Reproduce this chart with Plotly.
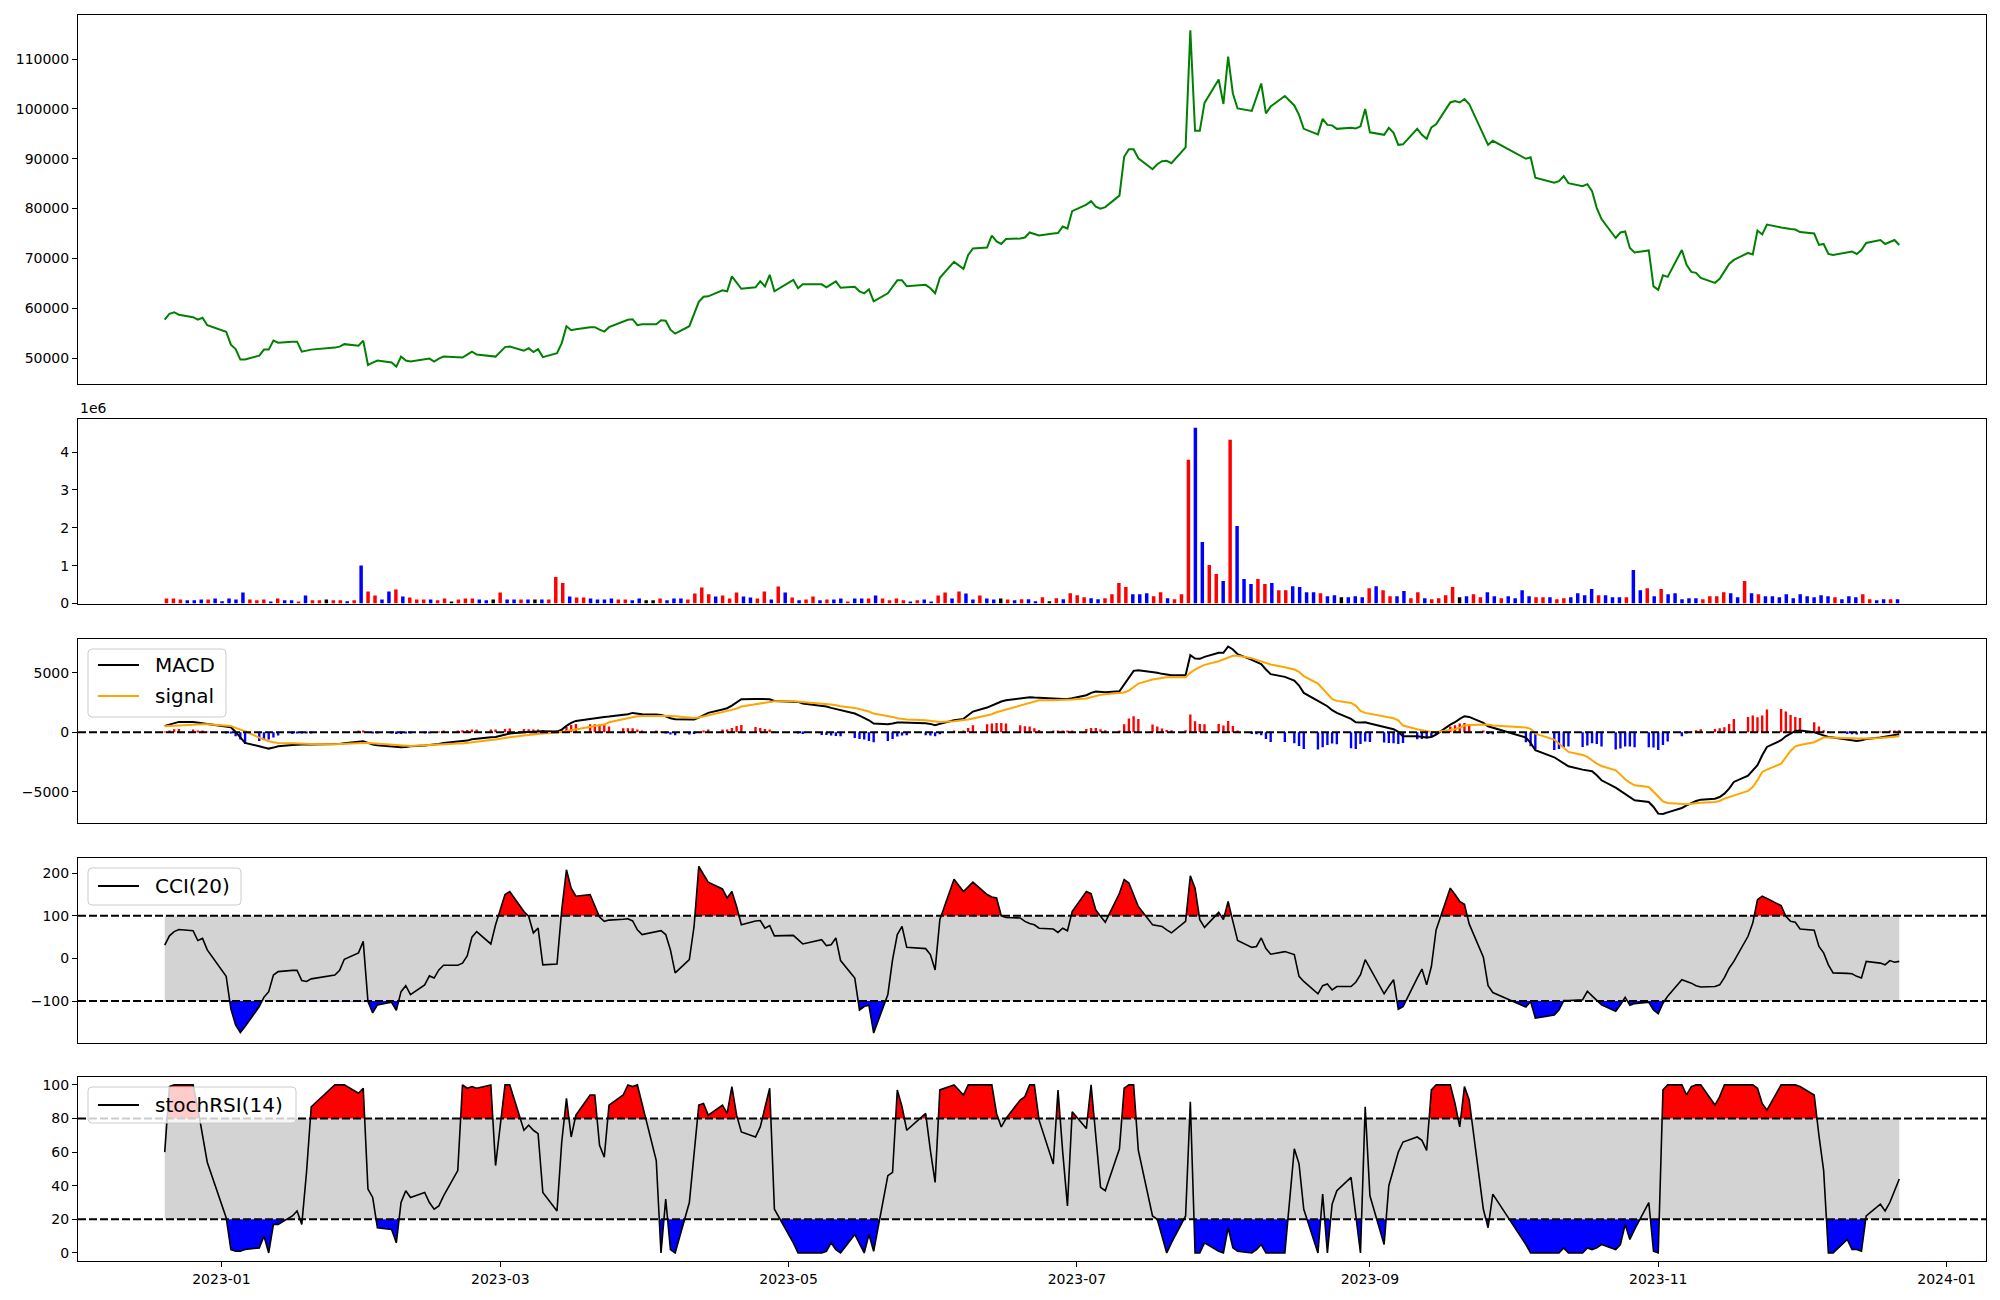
import pandas as pd
import plotly.graph_objects as go

# ---------------- data ----------------
HOLIDAYS = ["2022-12-30", "2023-01-23", "2023-01-24", "2023-03-01", "2023-05-01",
            "2023-05-05", "2023-05-29", "2023-06-06", "2023-08-15", "2023-09-28",
            "2023-09-29", "2023-10-02", "2023-10-03", "2023-10-09"]
START_DATE = "2022-12-20"
END_DATE = "2023-12-22"

CLOSE = [
    57700, 58900, 59200, 58700, 58200, 57700, 58100, 56600,
    55300, 52700, 51800, 49700, 49700, 50500, 51700, 51700, 53500, 53100, 53300, 53300, 51300, 51500, 51700, 52100, 52300, 52800, 52500, 53500,
    48600, 49100, 49500, 49100, 48300, 50300, 49500, 49300, 49700, 49900, 49300, 49900, 50300, 50200, 50100, 50700, 51300, 50700, 50500, 50300,
    52200, 52300, 51500, 52000, 51200, 51800, 50200, 51000, 53000, 56400, 55600, 55800, 56200, 56200, 55700, 55300, 56200, 57300, 57700, 57800, 56600, 56800,
    56800, 57600, 57500, 55700, 54900, 56400, 58700, 61300, 62300, 62400, 63600, 63400, 66400, 65200, 63900, 64200, 65400, 64400, 66700, 63400,
    65700, 64000, 64800, 64800, 64200, 64800, 65400, 64100, 64300, 63400, 63000, 63800, 61400, 63000, 64200, 65600, 65600, 64400, 64700, 64000,
    63000, 66100, 69300, 67900, 70700, 72000, 72200, 74600, 73400, 72900, 73900, 74000, 74200, 75200, 74900, 74600, 75000, 75100, 76400, 76000, 79500,
    80800, 81500, 80400, 80000, 80300, 82600, 90400, 91900, 91900, 90100, 87900, 88900, 89500, 89600, 89100, 92300, 115800, 95600, 95600, 101200, 105900,
    101000, 110500, 103100, 100100, 99600, 102400, 105100, 99100, 100500, 102600, 100700, 98800, 96000, 94900, 98000, 96800, 96700, 96000, 96200, 96100, 96500, 100000,
    95300, 94800, 96200, 95200, 92800, 92900, 96000, 94800, 94000, 96300, 96900, 101300, 101600, 101300, 102000, 101000, 94800, 92800, 93600,
    90000, 90300, 86200, 85200, 85500, 86500, 85100, 84500, 84900, 83500, 80100, 77900, 74100, 75200, 75400, 72100, 71200, 71600, 64400,
    63700, 66600, 66300, 71700, 68700, 67300, 67100, 66100, 65100, 65900, 67400, 68900, 69700, 71100, 70800, 75600, 74800, 76800, 76200, 76000, 75900, 75800,
    75300, 75000, 72700, 72900, 70900, 70700, 71300, 71400, 70900, 71700, 73100, 73700, 72900, 73300, 73700, 72700,
]

VOLUME = [
    132000, 132000, 106000, 88000, 88000, 106000, 106000, 132000, 62000, 132000,
    106000, 291000, 106000, 88000, 106000, 53000, 132000, 88000, 88000, 53000,
    212000, 88000, 88000, 106000, 88000, 88000, 62000, 88000, 1007000, 318000,
    212000, 106000, 318000, 371000, 185000, 159000, 106000, 106000, 106000, 88000,
    132000, 53000, 106000, 132000, 132000, 106000, 88000, 106000, 291000, 106000,
    106000, 106000, 106000, 106000, 106000, 106000, 698000, 539000, 185000, 159000,
    159000, 132000, 106000, 106000, 132000, 106000, 106000, 88000, 132000, 88000,
    88000, 132000, 88000, 132000, 132000, 106000, 265000, 424000, 247000, 185000,
    212000, 132000, 291000, 185000, 159000, 132000, 318000, 106000, 450000, 291000,
    159000, 88000, 106000, 185000, 88000, 106000, 106000, 132000, 53000, 132000,
    132000, 132000, 212000, 132000, 88000, 132000, 88000, 53000, 88000, 106000,
    53000, 212000, 291000, 132000, 318000, 265000, 106000, 212000, 132000, 106000,
    132000, 106000, 88000,
    115000, 115000, 62000, 168000, 62000, 141000, 115000, 274000, 221000, 168000,
    141000, 115000, 141000, 247000, 539000, 433000, 247000, 247000, 274000, 194000,
    300000, 141000, 115000, 247000, 3797000, 4645000, 1625000, 1015000, 777000, 592000,
    4327000, 2049000, 645000, 512000, 645000, 512000, 539000, 353000, 353000, 459000,
    433000, 300000, 300000, 274000, 194000, 221000, 168000, 168000, 194000, 168000,
    406000, 459000, 353000, 194000, 194000, 327000, 141000, 300000, 141000, 115000,
    141000, 221000, 433000, 168000, 194000, 247000, 168000, 300000, 194000, 141000,
    194000, 141000, 353000, 194000, 168000, 168000, 168000, 115000, 141000, 168000,
    274000, 221000, 380000, 221000, 221000, 168000, 168000, 168000, 883000, 353000,
    406000, 194000, 380000, 247000, 274000, 115000, 141000, 141000, 115000, 194000,
    194000, 300000, 274000, 168000, 592000, 274000, 247000, 194000, 194000, 168000,
    247000, 141000, 247000, 194000, 168000, 221000, 194000, 168000, 115000, 194000,
    168000, 247000, 115000, 88000, 115000, 115000, 115000,
]

# candle direction of each day: 1 = up, -1 = down, 0 = unchanged
DIRECTION = [
    1, 1, 1, -1, -1, -1, 1, -1, -1, -1,
    -1, -1, 1, 1, 1, -1, 1, -1, -1, 1,
    -1, 1, 1, 0, 1, 1, -1, 1, -1, 1,
    1, -1, -1, 1, -1, 1, 1, 1, -1, 1,
    1, 0, 1, 1, 1, -1, -1, 0, 1, -1,
    -1, 1, -1, 0, -1, 1, 1, 1, -1, 1,
    1, -1, -1, -1, -1, 1, 1, -1, -1, 0,
    0, 1, -1, -1, -1, 1, 1, 1, 1, -1,
    1, 1, 1, -1, -1, 1, 1, -1, 1, -1,
    1, -1, 1, 1, -1, 1, -1, -1, 1, -1,
    -1, 1, -1, 1, 1, 1, 1, -1, 1, -1,
    -1, 1, 1, -1, 1, -1, -1, 1, -1, -1,
    0, 1, -1,
    1, -1, -1, 1, 0, 1, -1, 1, 1, 1,
    -1, -1, 1, 1, 1, 1, -1, -1, -1, 1,
    1, -1, 1, 1, 1, -1, -1, 1, 1, -1,
    1, -1, -1, -1, 1, 1, -1, 1, 1, -1,
    -1, -1, -1, 1, -1, -1, 0, -1, -1, -1,
    1, -1, 1, 1, -1, -1, 1, 1, -1, 1,
    1, 1, 1, 0, -1, 1, 1, -1, -1, 1,
    -1, -1, -1, -1, 1, 1, -1, 1, 1, -1,
    -1, -1, -1, 1, -1, -1, -1, 1, -1, -1,
    1, -1, 1, -1, -1, -1, -1, -1, 1, 1,
    1, 1, -1, -1, 1, -1, 1, -1, -1, -1,
    -1, -1, -1, -1, -1, -1, -1, 1, -1, -1,
    -1, 1, 1, -1, -1, 1, -1,
]

MACD = [
    534, 646, 815, 871, 871, 815, 758, 702,
    478, 421, 28, -393, -899, -1180, -1264, -1376, -1292, -1180, -1067, -1039, -1011, -1011, -1039, -1011, -983, -927, -843, -758,
    -899, -1039, -1096, -1208, -1264, -1264, -1236, -1180, -1124, -1096, -1039, -983, -899, -815, -787, -702, -590, -534, -421, -393,
    -197, -112, 0, 28, 56, 84, 84, 56, 225, 534, 787, 955, 1152, 1208, 1236, 1292, 1320, 1461, 1517, 1629, 1573, 1517,
    1489, 1461, 1348, 1180, 1096, 1039, 1067, 1236, 1433, 1629, 1910, 2022, 2247, 2528, 2781, 2809, 2781, 2781, 2781, 2640,
    2612, 2556, 2416, 2219, 2163, 2051, 1966, 1854, 1573, 1404, 1236, 1011, 730, 674, 730, 815, 815, 815, 758, 702,
    590, 702, 1011, 1124, 1433, 1742, 2079, 2247, 2472, 2584, 2697, 2837, 2865, 2949, 2921, 2893, 2837, 2837, 2809, 2809, 2865,
    3118, 3315, 3427, 3399, 3371, 3455, 4017, 4663, 5169, 5225, 5084, 5000, 4916, 4831, 4803, 4803, 6489, 6208, 6180, 6348, 6685,
    6685, 7219, 6966, 6573, 6096, 5927, 5730, 5281, 4888, 4663, 4354, 3933, 3315, 2640, 2416, 2191, 1854, 1629, 1124, 843, 815, 843,
    730, 449, 337, 253, 28, -337, -337, -393, -449, -393, -197, 646, 843, 1124, 1348, 1292, 787, 506, 393,
    -449, -899, -1517, -2107, -2360, -2584, -2865, -3146, -3202, -3287, -3624, -4045, -4663, -4944, -5169, -5449, -5730, -5871, -6292,
    -6854, -6882, -6742, -6376, -6152, -5955, -5787, -5674, -5590, -5449, -5169, -4747, -4185, -3652, -3202, -2781, -1938, -1236, -674, -337, -112, 112,
    140, 0, -140, -281, -393, -449, -618, -674, -730, -674, -562, -449, -393, -337, -225, -169,
]

SIGNAL = [
    506, 534, 562, 590, 646, 674, 674, 674,
    590, 534, 365, 225, 84, -449, -618, -758, -843, -899, -927, -955, -955, -983, -983, -1011, -983, -955, -927, -899,
    -899, -927, -983, -1096, -1124, -1124, -1124, -1152, -1096, -1067, -1039, -1011, -1011, -955, -955, -899, -815, -758, -646, -618,
    -478, -421, -281, -225, -169, -140, -112, -28, 0, 84, 169, 253, 478, 534, 590, 646, 843, 1124, 1180, 1292, 1348, 1376,
    1404, 1404, 1376, 1376, 1348, 1236, 1208, 1236, 1320, 1404, 1685, 1798, 1882, 1994, 2163, 2360, 2416, 2500, 2556, 2612,
    2612, 2584, 2556, 2444, 2388, 2331, 2275, 2191, 2051, 1966, 1854, 1742, 1573, 1404, 1292, 1180, 1096, 1067, 1011, 983,
    927, 871, 927, 983, 1067, 1152, 1404, 1517, 1685, 1798, 1966, 2247, 2360, 2472, 2584, 2697, 2697, 2697, 2697, 2725, 2753,
    2837, 2949, 3062, 3146, 3202, 3315, 3343, 3511, 3820, 4101, 4438, 4522, 4607, 4635, 4635, 4635, 5000, 5281, 5478, 5674, 5983,
    6124, 6264, 6433, 6433, 6236, 6096, 5983, 5843, 5702, 5478, 5281, 5084, 4719, 4101, 3680, 3258, 2809, 2640, 2472, 2247, 1798, 1629,
    1545, 1320, 1236, 1180, 1011, 562, 253, 169, 84, 28, 28, 169, 253, 393, 562, 618, 674, 646, 562,
    393, 281, -112, -618, -955, -1292, -1657, -1910, -2079, -2360, -2640, -2837, -3202, -3567, -3961, -4242, -4466, -4607, -5000,
    -5365, -5815, -5955, -6040, -6068, -6011, -5955, -5927, -5871, -5787, -5590, -5449, -5309, -4944, -4607, -4045, -3343, -3146, -2640, -2079, -1573, -1180,
    -1067, -843, -618, -449, -449, -449, -478, -506, -534, -562, -534, -478, -449, -421, -365, -337,
]

CCI = [
    31, 53, 63, 68, 65, 42, 47, 20,
    -42, -119, -156, -174, -160, -113, -91, -78, -39, -31, -28, -28, -52, -54, -48, -39, -28, -2, 13, 40,
    -101, -128, -109, -103, -122, -78, -64, -85, -62, -41, -46, -27, -16, -16, -11, 6, 50, 63, 34, 79,
    150, 157, 110, 99, 60, 71, -15, -13, 114, 208, 165, 146, 150, 122, 97, 87, 90, 92, 93, 88, 67, 56,
    63, 65, 56, 20, -34, -3, 75, 216, 197, 179, 163, 142, 157, 122, 79, 88, 89, 71, 77, 53,
    54, 44, 34, 44, 30, 32, 48, -5, -46, -121, -113, -110, -175, -85, -3, 56, 75, 26, 23, 9,
    -27, 91, 186, 157, 168, 179, 150, 144, 142, 100, 96, 95, 87, 82, 79, 71, 69, 61, 71, 65, 110,
    157, 152, 114, 99, 85, 153, 185, 177, 150, 122, 79, 77, 75, 67, 60, 87, 194, 165, 91, 73, 108,
    91, 134, 87, 42, 26, 28, 48, 23, 10, 16, 9, -42, -54, -83, -64, -60, -74, -66, -66, -56, -38, -3,
    -23, -83, -66, -50, -119, -113, -46, -25, -62, -19, 67, 165, 150, 134, 127, 81, 3, -64, -80,
    -114, -101, -140, -133, -121, -99, -99, -97, -77, -88, -99, -109, -124, -109, -91, -110, -106, -103, -121,
    -130, -105, -89, -50, -54, -58, -64, -67, -66, -62, -45, -23, -7, 52, 83, 138, 146, 141, 124, 99, 87, 85,
    69, 66, 28, 13, -15, -34, -35, -36, -42, -46, -7, -11, -15, -5, -9, -7,
]

STOCH_RSI = [
    60, 99, 100, 100, 100, 86, 70, 54,
    21, 2, 1, 1, 2, 3, 10, 0, 17, 17, 22, 25, 17, 48, 87, 100, 100, 100, 95, 98,
    38, 33, 15, 14, 6, 30, 37, 33, 36, 30, 26, 28, 34, 49, 100, 98, 99, 98, 100, 52,
    100, 100, 73, 76, 73, 71, 36, 25, 66, 92, 69, 82, 94, 94, 64, 57, 88, 94, 100, 99, 100, 89,
    55, 0, 32, 2, 0, 30, 60, 88, 89, 82, 88, 83, 99, 82, 72, 69, 75, 87, 98, 26,
    6, 0, 0, 0, 1, 6, 2, 0, 11, 5, 0, 11, 1, 46, 48, 97, 87, 73, 83, 61,
    42, 97, 100, 94, 100, 100, 100, 100, 83, 75, 80, 91, 93, 100, 100, 79, 53, 97, 60, 28, 84,
    74, 100, 67, 39, 37, 62, 98, 100, 100, 61, 22, 20, 10, 0, 6, 22, 90, 0, 0, 6, 1,
    0, 15, 3, 1, 0, 2, 5, 0, 0, 0, 62, 53, 26, 0, 35, 0, 29, 37, 45, 22, 0, 87,
    34, 5, 40, 50, 60, 66, 69, 67, 61, 97, 100, 100, 89, 75, 99, 91, 26, 15, 35,
    5, 0, 0, 0, 0, 3, 0, 0, 3, 2, 3, 5, 2, 5, 17, 8, 14, 30, 1,
    0, 97, 100, 100, 94, 99, 100, 100, 88, 93, 100, 100, 100, 100, 100, 98, 89, 85, 100, 100, 100, 100,
    99, 94, 70, 49, 0, 0, 8, 2, 2, 1, 22, 29, 25, 30, 37, 44,
]

CCI_LEVELS = [100, -100]
STOCH_LEVELS = [80, 20]

PRICE_TICKS = [50000, 60000, 70000, 80000, 90000, 100000, 110000]
VOLUME_TICKS = [0, 1000000, 2000000, 3000000, 4000000]
VOLUME_TICK_LABELS = ["0", "1", "2", "3", "4"]
MACD_TICKS = [-5000, 0, 5000]
MACD_TICK_LABELS = ["\u22125000", "0", "5000"]
CCI_TICKS = [-100, 0, 100, 200]
CCI_TICK_LABELS = ["\u2212100", "0", "100", "200"]
STOCH_TICKS = [0, 20, 40, 60, 80, 100]
X_TICKS = ["2023-01-01", "2023-03-01", "2023-05-01", "2023-07-01", "2023-09-01", "2023-11-01", "2024-01-01"]
X_TICK_LABELS = ["2023-01", "2023-03", "2023-05", "2023-07", "2023-09", "2023-11", "2024-01"]

# ---------------- build ----------------
DATES = pd.bdate_range(START_DATE, END_DATE, freq="C", holidays=HOLIDAYS)
n = len(DATES)
for name, arr in [("CLOSE", CLOSE), ("VOLUME", VOLUME), ("DIRECTION", DIRECTION), ("MACD", MACD),
                  ("SIGNAL", SIGNAL), ("CCI", CCI), ("STOCH_RSI", STOCH_RSI)]:
    if len(arr) != n:
        raise SystemExit(f"{name} has {len(arr)} values, dates {n}")

HIST = [m - s for m, s in zip(MACD, SIGNAL)]
DAY_MS = 86400000
X_RANGE = [DATES[0] - pd.Timedelta(days=18.35), DATES[-1] + pd.Timedelta(days=18.35)]

# the volume panel is drawn against the row number (matplotlib-style 5% margins)
VOL_BAR_W = 0.5
VOL_POS = list(range(n))
vol_lo, vol_hi = -VOL_BAR_W / 2, (n - 1) + VOL_BAR_W / 2
VOL_X_RANGE = [vol_lo - 0.05 * (vol_hi - vol_lo), vol_hi + 0.05 * (vol_hi - vol_lo)]

FONT = "DejaVu Sans"
fig = go.Figure()

fig.add_trace(go.Scatter(x=DATES, y=CLOSE, mode="lines", line=dict(color="#008000", width=2),
                         showlegend=False, xaxis="x", yaxis="y"))

vol_colors = ["red" if d > 0 else ("blue" if d < 0 else "black") for d in DIRECTION]
fig.add_trace(go.Bar(x=VOL_POS, y=VOLUME, marker=dict(color=vol_colors, line=dict(width=0)),
                     width=VOL_BAR_W, showlegend=False, xaxis="x2", yaxis="y2"))

hist_colors = ["red" if h > 0 else "blue" for h in HIST]
fig.add_trace(go.Bar(x=DATES, y=HIST, marker=dict(color=hist_colors, line=dict(width=0)),
                     width=0.5 * DAY_MS, showlegend=False, xaxis="x3", yaxis="y3"))
fig.add_trace(go.Scatter(x=DATES, y=MACD, mode="lines", name="MACD", line=dict(color="black", width=2),
                         showlegend=False, xaxis="x3", yaxis="y3"))
fig.add_trace(go.Scatter(x=DATES, y=SIGNAL, mode="lines", name="signal", line=dict(color="#FFA500", width=2),
                         showlegend=False, xaxis="x3", yaxis="y3"))

xs_ms = [d.value // 10**6 for d in DATES]


def clipped_polygon(values, level, above):
    px, py = [], []
    for i, v in enumerate(values):
        if i > 0:
            v0 = values[i - 1]
            if (v0 - level) * (v - level) < 0:
                t = (level - v0) / (v - v0)
                px.append(xs_ms[i - 1] + t * (xs_ms[i] - xs_ms[i - 1]))
                py.append(level)
        px.append(xs_ms[i])
        py.append(max(v, level) if above else min(v, level))
    px = px + [px[-1], px[0]]
    py = py + [level, level]
    return pd.to_datetime(px, unit="ms"), py


def add_osc(values, levels, xa, ya, name):
    hi, lo = levels
    x, y = clipped_polygon(values, hi, True)
    fig.add_trace(go.Scatter(x=x, y=y, fill="toself", fillcolor="red", line=dict(width=0), mode="lines",
                             showlegend=False, hoverinfo="skip", xaxis=xa, yaxis=ya))
    x, y = clipped_polygon(values, lo, False)
    fig.add_trace(go.Scatter(x=x, y=y, fill="toself", fillcolor="blue", line=dict(width=0), mode="lines",
                             showlegend=False, hoverinfo="skip", xaxis=xa, yaxis=ya))
    fig.add_trace(go.Scatter(x=DATES, y=values, mode="lines", name=name, line=dict(color="black", width=1.6),
                             showlegend=False, xaxis=xa, yaxis=ya))
    fig.add_shape(type="rect", xref=xa, yref=ya, x0=DATES[0], x1=DATES[-1], y0=lo, y1=hi,
                  fillcolor="lightgray", line=dict(width=0), layer="below")
    for lv in levels:
        fig.add_shape(type="line", xref=xa + " domain", yref=ya, x0=0, x1=1, y0=lv, y1=lv,
                      line=dict(color="black", width=2, dash="8px,3px"), layer="above")


add_osc(CCI, CCI_LEVELS, "x4", "y4", "CCI(20)")
add_osc(STOCH_RSI, STOCH_LEVELS, "x5", "y5", "stochRSI(14)")

fig.add_shape(type="line", xref="x3 domain", yref="y3", x0=0, x1=1, y0=0, y1=0,
              line=dict(color="black", width=2, dash="8px,3px"), layer="above")

# ---------------- layout (page pixels; the page body adds an 8px offset) ----------------
PAGE_OFF = 8
AX_LEFT, AX_RIGHT, AX_TOP, AX_BOTTOM = 78, 1986, 15, 1261
W, H = 2000, 1300
ML, MR = AX_LEFT - PAGE_OFF, W - (AX_RIGHT - PAGE_OFF)
MT, MB = AX_TOP - PAGE_OFF, H - (AX_BOTTOM - PAGE_OFF)
PLOT_W, PLOT_H = AX_RIGHT - AX_LEFT, AX_BOTTOM - AX_TOP


def pyp(py):
    return (AX_BOTTOM - py) / PLOT_H


def pxp(px):
    return (px - AX_LEFT) / PLOT_W


domains = [[pyp(384), pyp(15)], [pyp(603.5), pyp(419)], [pyp(823), pyp(638.5)],
           [pyp(1042.5), pyp(858)], [pyp(1261), pyp(1076.5)]]
yranges = [[44800, 118850], [0, 4874000], [-7640, 7893], [-197.3, 235.7], [-4.8, 105]]
ytick = [(PRICE_TICKS, [str(t) for t in PRICE_TICKS]), (VOLUME_TICKS, VOLUME_TICK_LABELS),
         (MACD_TICKS, MACD_TICK_LABELS), (CCI_TICKS, CCI_TICK_LABELS),
         (STOCH_TICKS, [str(t) for t in STOCH_TICKS])]

axis_common = dict(showline=True, mirror=True, linecolor="black", linewidth=1, showgrid=False,
                   zeroline=False, tickfont=dict(family=FONT, size=14, color="black"))

layout = dict(width=W, height=H, margin=dict(l=ML, r=MR, t=MT, b=MB),
              paper_bgcolor="white", plot_bgcolor="white", font=dict(family=FONT, color="black"),
              showlegend=False)
for i in range(5):
    k = "" if i == 0 else str(i + 1)
    if i == 1:
        xa = dict(axis_common, domain=[0, 1], anchor="y2", type="linear", range=VOL_X_RANGE,
                  ticks="", showticklabels=False)
    else:
        xa = dict(axis_common, domain=[0, 1], anchor="y" + k, type="date", range=X_RANGE)
        if i == 4:
            xa.update(ticks="outside", ticklen=5, tickwidth=1, tickcolor="black",
                      tickvals=X_TICKS, ticktext=X_TICK_LABELS, showticklabels=True)
        else:
            xa.update(ticks="", showticklabels=False)
    ya = dict(axis_common, domain=domains[i], anchor="x" + k, range=yranges[i],
              ticks="outside", ticklen=5, tickwidth=1, tickcolor="black",
              tickvals=ytick[i][0], ticktext=ytick[i][1])
    layout["xaxis" + k] = xa
    layout["yaxis" + k] = ya
fig.update_layout(**layout)

fig.add_annotation(text="1e6", xref="x2 domain", yref="y2 domain", x=0, y=1, xanchor="left",
                   yanchor="bottom", showarrow=False, font=dict(family=FONT, size=14, color="black"), yshift=1)


# matplotlib-style legends drawn in page pixels
def rounded_box(x0, y0, x1, y1, r=4):
    X0, X1 = pxp(x0), pxp(x1)
    Y0, Y1 = pyp(y1), pyp(y0)
    rx, ry = r / PLOT_W, r / PLOT_H
    return (f"M{X0 + rx},{Y0} L{X1 - rx},{Y0} Q{X1},{Y0} {X1},{Y0 + ry} L{X1},{Y1 - ry} "
            f"Q{X1},{Y1} {X1 - rx},{Y1} L{X0 + rx},{Y1} Q{X0},{Y1} {X0},{Y1 - ry} "
            f"L{X0},{Y0 + ry} Q{X0},{Y0} {X0 + rx},{Y0} Z")


def draw_legend(box, entries):
    x0, y0, x1, y1 = box
    fig.add_shape(type="path", xref="paper", yref="paper", path=rounded_box(x0, y0, x1, y1),
                  fillcolor="rgba(255,255,255,0.8)", line=dict(color="#cccccc", width=1), layer="above")
    for label, color, ypix in entries:
        fig.add_shape(type="line", xref="paper", yref="paper", x0=pxp(98), x1=pxp(139),
                      y0=pyp(ypix), y1=pyp(ypix), line=dict(color=color, width=2), layer="above")
        fig.add_annotation(text=label, xref="paper", yref="paper", x=pxp(153), y=pyp(ypix),
                           xanchor="left", yanchor="middle", showarrow=False,
                           font=dict(family=FONT, size=20, color="black"))


draw_legend((88, 649, 226, 717), [("MACD", "black", 665), ("signal", "#FFA500", 696)])
draw_legend((88, 868, 241, 905), [("CCI(20)", "black", 886)])
draw_legend((88, 1087, 296, 1123), [("stochRSI(14)", "black", 1105)])

fig.write_html("out.html")
